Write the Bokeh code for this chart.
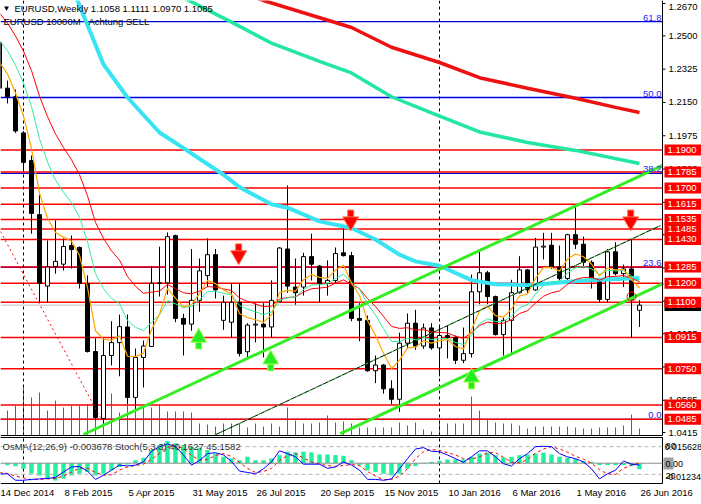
from bokeh.plotting import figure
from bokeh.models import Range1d
from bokeh.embed import file_html
from bokeh.resources import INLINE
from bokeh.core.properties import value

# ---------------- data (weekly bars, index 0 = week of 14 Dec 2014) ----------------
weeks = list(range(81))
date_tick_bars = [0, 8, 16, 24, 32, 40, 48, 56, 64, 72, 80]
date_tick_labels = ["14 Dec 2014", "8 Feb 2015", "5 Apr 2015", "31 May 2015", "26 Jul 2015",
                    "20 Sep 2015", "15 Nov 2015", "10 Jan 2016", "6 Mar 2016", "1 May 2016", "26 Jun 2016"]

opens = [1.2465, 1.2225, 1.2180, 1.1990, 1.1845, 1.1560, 1.1185, 1.1288, 1.1300, 1.1398,
         1.1388, 1.1199, 1.0841, 1.0489, 1.0820, 1.0888, 1.0970, 1.0600, 1.0810, 1.0868,
         1.1200, 1.1202, 1.1450, 1.1015, 1.0985, 1.1110, 1.1240, 1.1350, 1.1005, 1.0995,
         1.1100, 1.0840, 1.0980, 1.0985, 1.0970, 1.1105, 1.1380, 1.1180, 1.1180, 1.1340,
         1.1290, 1.1200, 1.1214, 1.1360, 1.1345, 1.1015, 1.1005, 1.0740, 1.0770, 1.0645,
         1.0590, 1.0885, 1.0990, 1.0870, 1.0965, 1.0860, 1.0925, 1.0915, 1.0795, 1.0830,
         1.1155, 1.1255, 1.1130, 1.0930, 1.1005, 1.1150, 1.1270, 1.1165, 1.1390, 1.1400,
         1.1285, 1.1225, 1.1455, 1.1405, 1.1310, 1.1225, 1.1115, 1.1365, 1.1250, 1.1275,
         1.1058]
highs = [1.2570, 1.2265, 1.2218, 1.2000, 1.1871, 1.1665, 1.1425, 1.1530, 1.1435, 1.1451,
         1.1393, 1.1241, 1.0910, 1.0915, 1.1000, 1.1035, 1.1036, 1.0857, 1.0899, 1.1290,
         1.1392, 1.1467, 1.1455, 1.1040, 1.1380, 1.1330, 1.1436, 1.1380, 1.1135, 1.1200,
         1.1200, 1.0990, 1.1094, 1.1095, 1.1215, 1.1390, 1.1714, 1.1330, 1.1360, 1.1460,
         1.1295, 1.1320, 1.1388, 1.1495, 1.1365, 1.1095, 1.1030, 1.0820, 1.0775, 1.0690,
         1.0940, 1.1041, 1.1060, 1.0988, 1.0990, 1.0970, 1.0978, 1.0925, 1.0967, 1.1245,
         1.1376, 1.1265, 1.1135, 1.1020, 1.1218, 1.1342, 1.1275, 1.1438, 1.1465, 1.1465,
         1.1398, 1.1460, 1.1616, 1.1445, 1.1320, 1.1225, 1.1380, 1.1416, 1.1298, 1.1428,
         1.1111]
lows = [1.2220, 1.2145, 1.1990, 1.1800, 1.1460, 1.1100, 1.1098, 1.1250, 1.1267, 1.1277,
        1.1172, 1.0836, 1.0479, 1.0462, 1.0768, 1.0711, 1.0567, 1.0531, 1.0652, 1.0865,
        1.1130, 1.1140, 1.0995, 1.0820, 1.0950, 1.1050, 1.1180, 1.1120, 1.0955, 1.0915,
        1.0815, 1.0810, 1.0889, 1.0810, 1.0915, 1.1100, 1.1150, 1.1087, 1.1135, 1.1214,
        1.1100, 1.1135, 1.1200, 1.1340, 1.1000, 1.0895, 1.0735, 1.0675, 1.0620, 1.0565,
        1.0524, 1.0857, 1.0850, 1.0855, 1.0850, 1.0710, 1.0805, 1.0775, 1.0780, 1.0810,
        1.1090, 1.1090, 1.0925, 1.0820, 1.0822, 1.1145, 1.1145, 1.1160, 1.1325, 1.1275,
        1.1215, 1.1215, 1.1380, 1.1290, 1.1172, 1.1100, 1.1100, 1.1241, 1.1180, 1.0912,
        1.0970]
closes = [1.2225, 1.2180, 1.2000, 1.1835, 1.1567, 1.1200, 1.1285, 1.1315, 1.1393, 1.1377,
          1.1199, 1.0841, 1.0494, 1.0820, 1.0888, 1.0972, 1.0600, 1.0810, 1.0870, 1.1200,
          1.1202, 1.1445, 1.1015, 1.0985, 1.1110, 1.1265, 1.1350, 1.1165, 1.1100, 1.1100,
          1.0831, 1.0980, 1.0985, 1.0970, 1.1110, 1.1385, 1.1185, 1.1150, 1.1340, 1.1300,
          1.1200, 1.1215, 1.1356, 1.1345, 1.1015, 1.1005, 1.0740, 1.0770, 1.0645, 1.0590,
          1.0885, 1.0990, 1.0870, 1.0965, 1.0860, 1.0925, 1.0915, 1.0795, 1.0830, 1.1155,
          1.1255, 1.1130, 1.0930, 1.1005, 1.1150, 1.1270, 1.1165, 1.1390, 1.1395, 1.1285,
          1.1225, 1.1455, 1.1405, 1.1310, 1.1225, 1.1115, 1.1365, 1.1250, 1.1275, 1.1115,
          1.1085]
volumes = [20, 25, 30, 48, 38, 43, 25, 35, 28, 30, 30, 31, 44, 42, 42, 23, 38, 33, 31, 28,
           31, 24, 24, 24, 23, 12, 11, 9, 12, 12, 12, 8, 12, 9, 12, 9, 28, 15, 12, 12,
           13, 20, 13, 14, 12, 8, 8, 8, 8, 8, 13, 10, 13, 6, 4, 13, 12, 12, 12, 39,
           25, 17, 13, 12, 12, 10, 7, 9, 9, 9, 9, 9, 8, 7, 7, 8, 8, 8, 10, 21, 7]  # thousand ticks

# slow moving averages (bar index, price)
ma_red_bars = [30, 33, 44, 49, 55, 60, 66, 72, 77, 80]
ma_red_vals = [1.2728, 1.2686, 1.2544, 1.2440, 1.2360, 1.2280, 1.2225, 1.2172, 1.2124, 1.2097]
ma_aqua_bars = [21, 23, 29, 34, 40, 44, 49, 54, 60, 66, 72, 80]
ma_aqua_vals = [1.2760, 1.2700, 1.2572, 1.2462, 1.2366, 1.2305, 1.2180, 1.2095, 1.1995, 1.1940, 1.1898, 1.1829]
ma_cyan_bars = [8, 10, 13, 16, 20, 23, 28, 30, 34, 36, 40, 44, 47, 50, 52, 55, 59, 62, 66, 73, 80]
ma_cyan_vals = [1.2870, 1.2660, 1.2350, 1.2176, 1.1992, 1.1910, 1.1770, 1.1705, 1.1615, 1.1597, 1.1525,
                1.1490, 1.1430, 1.1350, 1.1315, 1.1292, 1.1216, 1.1195, 1.1190, 1.1214, 1.1228]
# fast moving averages: starting values read at the first bar, smoothing factors
fast_ma_seeds = [1.2360, 1.2476, 1.2620]
fast_ma_alphas = [1 / 3, 2 / 11, 0.12]

# support / resistance levels, fibonacci levels, price scale
sr_levels = [1.1900, 1.1785, 1.1700, 1.1615, 1.1535, 1.1485, 1.1430, 1.1285, 1.1200,
             1.1100, 1.0915, 1.0750, 1.0560, 1.0485]
fib_names = ["61.8", "50.0", "38.2", "23.6", "0.0"]
fib_levels = [1.2575, 1.2176, 1.1777, 1.1284, 1.0485]
bid_price = 1.1085
price_ticks = [1.2670, 1.2500, 1.2325, 1.2150, 1.1975, 1.1800, 1.1625, 1.1455, 1.1280,
               1.1105, 1.0935, 1.0760, 1.0585, 1.0415]
separator_bars = [3, 55]

# trend lines (bar index, price)
chan_up_bars = [10.5, 82.9]
chan_up_vals = [1.0405, 1.1819]
chan_lo_bars = [42.6, 83.0]
chan_lo_vals = [1.0410, 1.1199]
trend_bars = [26.75, 82.6]
trend_vals = [1.0399, 1.1503]
red_dash_bars = [0.125, 12.6]
red_dash_vals = [1.1472, 1.0494]

# signal arrows
arrow_up_bars = [24.9, 33.9, 59.0]
arrow_up_vals = [1.0899, 1.0784, 1.0689]
arrow_dn_bars = [29.9, 43.9, 78.9]
arrow_dn_vals = [1.1362, 1.1540, 1.1540]
circle_bar = [79]
circle_val = [1.1130]

# oscillators
osma = [-0.5, -1.2, -1.8, -3.3, -6.4, -7.4, -9.4, -10.5, -9.4, -7.4,
        -6.4, -5.3, -7.4, -6.4, -4.3, -2.3, -0.8, 1.8, 3.3, 8.0,
        11.1, 13.5, 12.1, 11.1, 10.0, 9.4, 8.0, 5.9, 3.9, 2.9,
        1.8, 3.9, 1.8, 1.8, 2.9, 4.9, 7.0, 6.6, 7.0, 6.6,
        5.3, 5.3, 4.9, 4.5, 1.8, -1.2, -4.3, -5.3, -6.4, -7.4,
        -6.4, -3.3, -1.8, 0.3, 0.8, 1.4, 2.3, 2.3, 2.3, 3.9,
        5.9, 6.4, 4.9, 3.5, 3.9, 4.9, 5.3, 5.9, 6.4, 5.3,
        3.9, 3.3, 2.5, 1.4, 0.8, -1.2, -1.2, -1.2, -1.2, -1.8, -3.678]  # x 1e-3
stoch_main = [21, 21, 7, 7, 9, 10, 11, 13, 25, 36, 37, 27, 9, 18, 29, 40, 38, 40, 47, 70,
              80, 86, 80, 62, 40, 50, 65, 67, 62, 48, 27, 24, 21, 32, 47, 71, 65, 58, 42, 42,
              42, 33, 36, 47, 40, 29, 9, 9, 7, 10, 32, 54, 75, 78, 70, 69, 62, 54, 46, 58,
              71, 71, 58, 43, 38, 54, 65, 80, 81, 80, 65, 58, 54, 47, 32, 10, 21, 29, 49, 42, 40.16]
stoch_signal = [24, 22, 16, 12, 8, 9, 10, 11, 16, 25, 33, 33, 24, 18, 19, 29, 36, 39, 42, 52,
                66, 79, 82, 76, 61, 51, 52, 61, 65, 59, 46, 33, 24, 26, 33, 50, 61, 65, 55, 47,
                42, 39, 37, 39, 41, 39, 26, 16, 8, 9, 16, 32, 54, 69, 74, 72, 67, 62, 54, 53,
                58, 67, 67, 57, 46, 45, 52, 66, 75, 80, 75, 68, 59, 53, 44, 30, 21, 20, 33, 40, 45.16]
osma_max, osma_min = 0.015628, -0.01234
stoch_levels = [80, 20]

# ---------------- layout geometry (pixels of the 701x504 canvas) ----------------
W, H = 701, 504
MAIN_BOTTOM, SUB_TOP, SUB_BOTTOM, AXIS_X = 435, 437, 483, 662
PRICE_TOP = 1.26858
PX = 0.2286 / 435.0          # price per pixel
FONT = "Liberation Sans"
FS = "9.5px"


def kx(xpx):
    return (xpx + 1) / 8.0


def py(ypx):
    return PRICE_TOP - ypx * PX


def sv(ypx):
    return (SUB_BOTTOM - ypx) / (SUB_BOTTOM - SUB_TOP) * 100.0


def ov(ypx):
    return osma_max - (ypx - SUB_TOP) * (osma_max - osma_min) / (SUB_BOTTOM - SUB_TOP)


def ema(series, alpha, seed):
    out = [seed]
    for c in series[1:]:
        out.append(out[-1] + alpha * (c - out[-1]))
    return out


p = figure(width=W, height=H, x_range=Range1d(kx(0), kx(W)), y_range=Range1d(py(H), py(0)),
           output_backend="svg", toolbar_location=None, x_axis_location=None,
           y_axis_location=None, min_border=0)
p.outline_line_color = None
p.background_fill_color = "white"
p.border_fill_color = "white"
p.grid.visible = False
p.extra_y_ranges = {
    "vol": Range1d(MAIN_BOTTOM - H, MAIN_BOTTOM),
    "stoch": Range1d(sv(H), sv(0)),
    "osma": Range1d(ov(H), ov(0)),
}

X0, X1 = kx(0), kx(AXIS_X)


def text(xs, ys, texts, color="black", align="left", baseline="middle", size=FS, **kw):
    p.text(x=xs, y=ys, text=texts, text_font=value(FONT), text_font_size=size,
           text_color=color, text_align=align, text_baseline=baseline, **kw)


# ---------- main window ----------
p.segment(x0=weeks, y0=[0] * len(weeks), x1=weeks, y1=volumes, y_range_name="vol",
          line_color="#2a8a2a", line_width=1)

p.segment(x0=[X0] * len(fib_levels), y0=fib_levels, x1=[X1] * len(fib_levels), y1=fib_levels,
          line_color="#0000dd", line_width=1.3)
p.segment(x0=[X0] * len(sr_levels), y0=sr_levels, x1=[X1] * len(sr_levels), y1=sr_levels,
          line_color="#ff0000", line_width=1.5)
p.segment(x0=[X0], y0=[bid_price], x1=[X1], y1=[bid_price], line_color="#c0c0c0", line_width=1)
p.segment(x0=separator_bars, y0=[py(0)] * 2, x1=separator_bars, y1=[py(SUB_BOTTOM)] * 2,
          line_color="black", line_width=1, line_dash="3 3")

up_i = [i for i in weeks if closes[i] >= opens[i]]
dn_i = [i for i in weeks if closes[i] < opens[i]]
p.segment(x0=weeks, y0=lows, x1=weeks, y1=highs, line_color="black", line_width=1)
p.vbar(x=up_i, width=0.5, top=[closes[i] for i in up_i], bottom=[opens[i] for i in up_i],
       fill_color="white", line_color="black", line_width=1)
p.vbar(x=dn_i, width=0.5, top=[opens[i] for i in dn_i], bottom=[closes[i] for i in dn_i],
       fill_color="black", line_color="black", line_width=1)

ma_fast = ema(closes, fast_ma_alphas[0], fast_ma_seeds[0])
ma_mid = ema(closes, fast_ma_alphas[1], fast_ma_seeds[1])
ma_slow = ema(closes, fast_ma_alphas[2], fast_ma_seeds[2])
p.line(ma_cyan_bars, ma_cyan_vals, line_color="#38e4f2", line_width=4)
p.line(ma_aqua_bars, ma_aqua_vals, line_color="#22e6a2", line_width=3.5)
p.line(ma_red_bars, ma_red_vals, line_color="#ee1111", line_width=3.5)
p.line(weeks, ma_slow, line_color="#ff0000", line_width=1)
p.line(weeks, ma_mid, line_color="#33ee99", line_width=1)
p.line(weeks, ma_fast, line_color="#ffa500", line_width=1.2)

p.line(chan_up_bars, chan_up_vals, line_color="#33ee22", line_width=3)
p.line(chan_lo_bars, chan_lo_vals, line_color="#33ee22", line_width=3)
p.line(trend_bars, trend_vals, line_color="black", line_width=1)
p.line(trend_bars, trend_vals, line_color="#33dd33", line_width=1, line_dash="3 4")
p.line(red_dash_bars, red_dash_vals, line_color="#ff0000", line_width=1, line_dash="2 3")

p.rect(x=arrow_up_bars, y=[v - 4 * PX for v in arrow_up_vals], width=6, height=9,
       width_units="screen", height_units="screen", fill_color="#22ee22", line_color="#aaff55")
p.scatter(x=arrow_up_bars, y=[v + 3 * PX for v in arrow_up_vals], marker="triangle", size=16,
          fill_color="#22ee22", line_color="#aaff55")
p.rect(x=arrow_dn_bars, y=[v + 4 * PX for v in arrow_dn_vals], width=6, height=9,
       width_units="screen", height_units="screen", fill_color="#ff0000", line_color="#ff7040")
p.scatter(x=arrow_dn_bars, y=[v - 3 * PX for v in arrow_dn_vals], marker="inverted_triangle",
          size=16, fill_color="#ff0000", line_color="#ff7040")
p.scatter(x=circle_bar, y=circle_val, marker="circle", size=9, fill_color=None,
          line_color="#ff0000", line_width=1)

text([kx(661)] * len(fib_levels), [v + PX for v in fib_levels], fib_names, color="#2222ff",
     align="right", baseline="bottom")

text([kx(2)], [py(8)], ["\u25bc"], size="8px")
text([kx(14)], [py(8)], ["EURUSD,Weekly  1.1058 1.1111 1.0970 1.1085"])
text([kx(3), kx(88)], [py(21), py(21)], ["EURUSD 10000M", "Achtung SELL"])

# frames of the two windows
fx0 = [X0, X0, X1, X0, X0, X1]
fy0 = [py(MAIN_BOTTOM), py(SUB_TOP), py(0), py(SUB_BOTTOM), py(SUB_TOP), py(SUB_TOP)]
fx1 = [X1, X1, X1, X1, X1, X1]
fy1 = [py(MAIN_BOTTOM), py(SUB_TOP), py(MAIN_BOTTOM), py(SUB_BOTTOM), py(SUB_TOP), py(SUB_BOTTOM)]
p.segment(x0=fx0, y0=fy0, x1=fx1, y1=fy1, line_color="black", line_width=1)

# price scale on the right (top label kept inside the canvas)
p.segment(x0=[X1] * len(price_ticks), y0=price_ticks, x1=[kx(AXIS_X + 3)] * len(price_ticks),
          y1=price_ticks, line_color="black", line_width=1)
tick_label_y = [min(v, py(6)) for v in price_ticks]
text([kx(AXIS_X + 6)] * len(price_ticks), tick_label_y, ["%.4f" % v for v in price_ticks])

box_x = kx((AXIS_X + 2 + W) / 2.0)
p.rect(x=[box_x], y=[bid_price], width=W - AXIS_X - 2, height=12, width_units="screen",
       height_units="screen", fill_color="black", line_color=None)
text([kx(AXIS_X + 5)], [bid_price], ["%.4f" % bid_price], color="white")
p.rect(x=[box_x] * len(sr_levels), y=sr_levels, width=W - AXIS_X - 2, height=11,
       width_units="screen", height_units="screen", fill_color="#ff0000", line_color=None)
text([kx(AXIS_X + 5)] * len(sr_levels), sr_levels, ["%.4f" % v for v in sr_levels], color="white")

# ---------- oscillator window ----------
p.vbar(x=weeks, width=0.55, top=[v / 1000.0 for v in osma], bottom=0, y_range_name="osma",
       fill_color="#22f09c", line_color=None)
p.segment(x0=[X0] * 2, y0=stoch_levels, x1=[X1] * 2, y1=stoch_levels, y_range_name="stoch",
          line_color="#b4b4b4", line_dash="4 3", line_width=1)
p.segment(x0=[X0], y0=[0], x1=[X1], y1=[0], y_range_name="osma", line_color="#8c8c8c",
          line_width=1)
p.line(weeks, stoch_signal, y_range_name="stoch", line_color="#ff0000", line_width=1,
       line_dash="3 3")
p.line(weeks, stoch_main, y_range_name="stoch", line_color="#0000ff", line_width=1)

text([kx(2)], [py(446)], ["OsMA(12,26,9) -0.003678  Stoch(5,3,3) 40.1627 45.1582"], color="#303030")
p.rect(x=[kx(668)], y=[py(463)], width=10, height=12, width_units="screen",
       height_units="screen", fill_color="#a0a0a0", line_color=None)
text([kx(665)], [py(445)], ["80"])
text([kx(664), kx(665), kx(665)], [py(446), py(463), py(475)], ["0.015628", "0.00", "20"],
     size="9px")
text([kx(665)], [py(476)], ["-0.01234"], size="9px")

# time scale
text(date_tick_bars, [py(492)] * len(date_tick_bars), date_tick_labels, x_offset=1)

open("out.html", "w").write(file_html(p, INLINE))
